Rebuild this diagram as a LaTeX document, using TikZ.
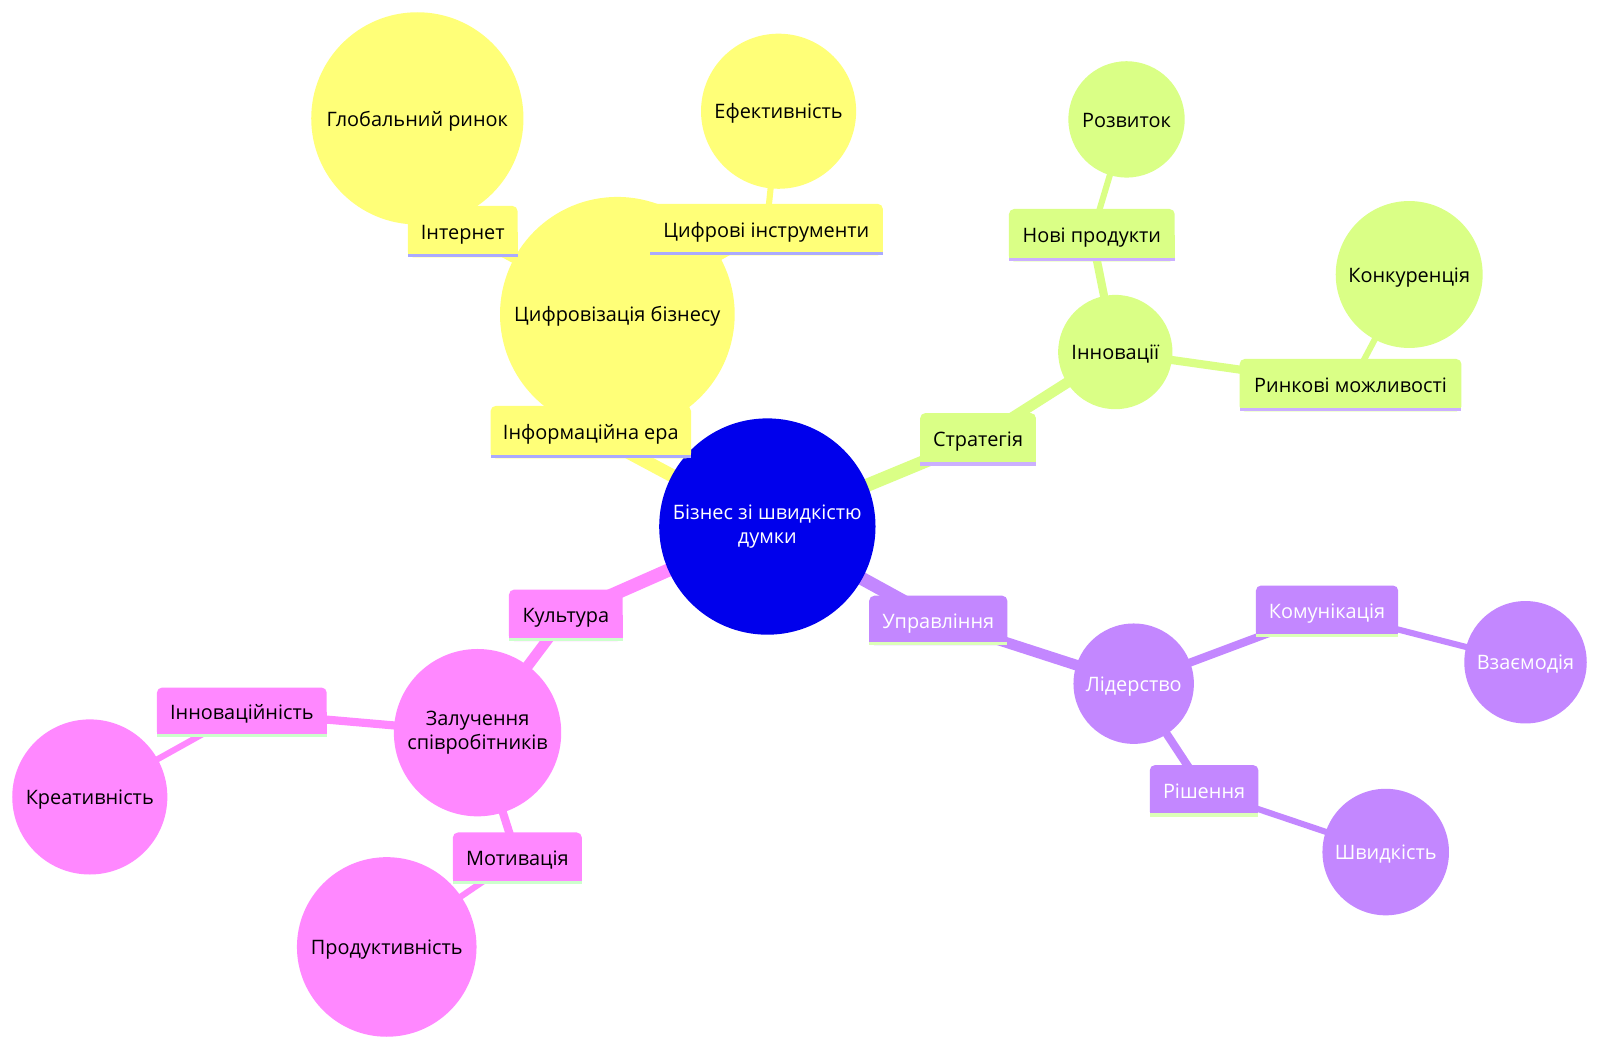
\documentclass[tikz,border=0pt]{standalone}
\usepackage{fontspec}
\setmainfont{Open Sans}
\pgfdeclarelayer{bglayer}
\pgfdeclarelayer{edgelayer}
\pgfdeclarelayer{circlayer}
\pgfdeclarelayer{boxlayer}
\pgfsetlayers{bglayer,edgelayer,circlayer,boxlayer,main}
\definecolor{cblue}{HTML}{0000EC}
\definecolor{cyel}{HTML}{FFFF78}
\definecolor{uyel}{HTML}{AAAAFF}
\definecolor{cgrn}{HTML}{DAFF86}
\definecolor{ugrn}{HTML}{CBB0FF}
\definecolor{cpur}{HTML}{C387FF}
\definecolor{upur}{HTML}{DCFFB8}
\definecolor{cpnk}{HTML}{FF88FF}
\definecolor{upnk}{HTML}{CCFFCC}
\newcommand\mmfont{\fontsize{19.5}{23}\selectfont}
\newcommand\mmstrut{\rule[-5pt]{0pt}{25pt}}
\newcommand\boxbg[3]{%
  \fill[#2,rounded corners=5pt] (#1.south west) rectangle (#1.north east);
  \fill[#2] (#1.south west) rectangle (#1.east);
  \fill[#3] (#1.south west) rectangle ([yshift=3pt]#1.south east);}
\tikzset{
  circ/.style={circle, inner sep=0pt, align=center, font=\mmfont, minimum size=#1,
    execute at begin node=\mmstrut},
  lbl/.style={rectangle, inner sep=0pt, font=\mmfont, execute at begin node=\mmstrut},
  ed0/.style={line width=13pt},
  ed1/.style={line width=10.5pt},
  ed2/.style={line width=8pt},
  ed3/.style={line width=6pt},
}
\begin{document}
\begin{tikzpicture}[x=1pt,y=-1pt]
\begin{pgfonlayer}{bglayer}
\fill[white] (0,0) rectangle (1568,1029);
\end{pgfonlayer}
\useasboundingbox (0,0) rectangle (1568,1029);

\begin{pgfonlayer}{circlayer}
\node[circ=212, fill=cblue, text=white] (root) at (752,516) {Бізнес зі швидкістю\\думки};
% yellow
\node[circ=230, fill=cyel] (digit) at (605,308) {Цифровізація бізнесу};
\node[circ=208, fill=cyel] (global) at (409,116) {Глобальний ринок};
\node[circ=152, fill=cyel] (effect) at (763,109) {Ефективність};
% green
\node[circ=112, fill=cgrn] (innov) at (1093,345) {Інновації};
\node[circ=114, fill=cgrn] (develop) at (1104,117) {Розвиток};
\node[circ=144, fill=cgrn] (compet) at (1381,269) {Конкуренція};
% purple
\node[circ=118, fill=cpur, text=white] (leader) at (1111,670) {Лідерство};
\node[circ=120, fill=cpur, text=white] (interact) at (1495,649) {Взаємодія};
\node[circ=124, fill=cpur, text=white] (speed) at (1358,835) {Швидкість};
% pink
\node[circ=164, fill=cpnk] (engage) at (468,718) {Залучення\\співробітників};
\node[circ=152, fill=cpnk] (creative) at (88,781) {Креативність};
\node[circ=176, fill=cpnk] (product) at (379,928) {Продуктивність};
\end{pgfonlayer}

% label boxes (text on main layer)
\node[lbl, minimum width=196, minimum height=51] (infoera) at (579,423.5) {Інформаційна ера};
\node[lbl, minimum width=107, minimum height=50] (internet) at (453.5,227) {Інтернет};
\node[lbl, minimum width=228, minimum height=50] (tools) at (751,225) {Цифрові інструменти};
\node[lbl, minimum width=113, minimum height=51] (strategy) at (958.5,430.5) {Стратегія};
\node[lbl, minimum width=162, minimum height=51] (newprod) at (1070,230.5) {Нові продукти};
\node[lbl, minimum width=217, minimum height=51] (market) at (1323.5,377.5) {Ринкові можливості};
\node[lbl, minimum width=135, minimum height=48, text=white] (mgmt) at (919.5,608) {Управління};
\node[lbl, minimum width=139, minimum height=50, text=white] (comm) at (1300.5,599) {Комунікація};
\node[lbl, minimum width=106, minimum height=50, text=white] (decision) at (1180,775) {Рішення};
\node[lbl, minimum width=111, minimum height=50] (culture) at (554.5,603) {Культура};
\node[lbl, minimum width=166, minimum height=48] (innovness) at (237,698) {Інноваційність};
\node[lbl, minimum width=126, minimum height=50] (motiv) at (507,841) {Мотивація};

\begin{pgfonlayer}{boxlayer}
\boxbg{infoera}{cyel}{uyel}
\boxbg{internet}{cyel}{uyel}
\boxbg{tools}{cyel}{uyel}
\boxbg{strategy}{cgrn}{ugrn}
\boxbg{newprod}{cgrn}{ugrn}
\boxbg{market}{cgrn}{ugrn}
\boxbg{mgmt}{cpur}{upur}
\boxbg{comm}{cpur}{upur}
\boxbg{decision}{cpur}{upur}
\boxbg{culture}{cpnk}{upnk}
\boxbg{innovness}{cpnk}{upnk}
\boxbg{motiv}{cpnk}{upnk}
\end{pgfonlayer}

\begin{pgfonlayer}{edgelayer}
\draw[cyel, ed0] (root.center) -- (infoera.center);
\draw[cyel, ed1] (infoera.center) -- (digit.center);
\draw[cyel, ed2] (digit.center) -- (internet.center);
\draw[cyel, ed3] (internet.center) -- (global.center);
\draw[cyel, ed2] (digit.center) -- (tools.center);
\draw[cyel, ed3] (tools.center) -- (effect.center);
\draw[cgrn, ed0] (root.center) -- (strategy.center);
\draw[cgrn, ed1] (strategy.center) -- (innov.center);
\draw[cgrn, ed2] (innov.center) -- (newprod.center);
\draw[cgrn, ed3] (newprod.center) -- (develop.center);
\draw[cgrn, ed2] (innov.center) -- (market.center);
\draw[cgrn, ed3] (market.center) -- (compet.center);
\draw[cpur, ed0] (root.center) -- (mgmt.center);
\draw[cpur, ed1] (mgmt.center) -- (leader.center);
\draw[cpur, ed2] (leader.center) -- (comm.center);
\draw[cpur, ed3] (comm.center) -- (interact.center);
\draw[cpur, ed2] (leader.center) -- (decision.center);
\draw[cpur, ed3] (decision.center) -- (speed.center);
\draw[cpnk, ed0] (root.center) -- (culture.center);
\draw[cpnk, ed1] (culture.center) -- (engage.center);
\draw[cpnk, ed2] (engage.center) -- (innovness.center);
\draw[cpnk, ed3] (innovness.center) -- (creative.center);
\draw[cpnk, ed2] (engage.center) -- (motiv.center);
\draw[cpnk, ed3] (motiv.center) -- (product.center);
\end{pgfonlayer}
\end{tikzpicture}
\end{document}
